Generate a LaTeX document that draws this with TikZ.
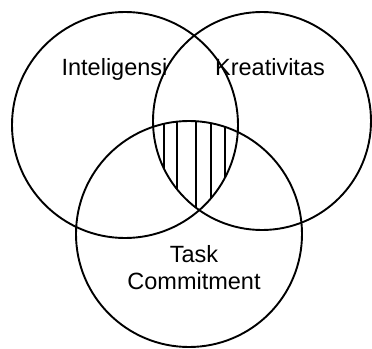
\documentclass[tikz,border=0pt]{standalone}
\usepackage{fontspec}
\setmainfont{Liberation Sans}
\begin{document}
\begin{tikzpicture}[x=1pt,y=-1pt,
  ring/.style={draw=black,line width=1.9pt},
  hatch/.style={draw=black,line width=1.8pt},
  label/.style={font=\fontsize{23.5}{27}\selectfont,inner sep=0pt,anchor=base,align=center}]
  \useasboundingbox (0,0) rectangle (372,348);
  % centres of the three sets
  \coordinate (cI) at (125,125);
  \coordinate (cK) at (262,121);
  \coordinate (cT) at (189,234);
  % hatched region common to all three sets
  \begin{scope}
    \clip (cI) circle[radius=113];
    \clip (cK) circle[radius=109];
    \clip (cT) circle[radius=113];
    \foreach \x in {164,177,196,211,225}
      \draw[hatch] (\x,100) -- (\x,230);
  \end{scope}
  % the three sets
  \draw[ring] (cI) circle[radius=113];
  \draw[ring] (cK) circle[radius=109];
  \draw[ring] (cT) circle[radius=113];
  % labels
  \node[label] (lI) at (114.5,75) {Inteligensi};
  \node[label] (lK) at (270,75) {Kreativitas};
  \node[label] (lT) at (194,289) {Task\\Commitment};
\end{tikzpicture}
\end{document}
